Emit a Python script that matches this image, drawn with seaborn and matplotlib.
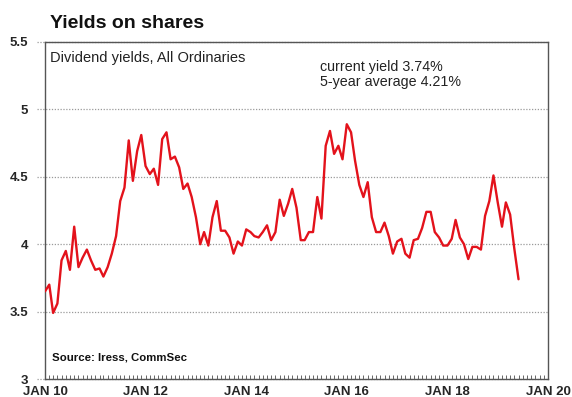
import matplotlib
matplotlib.use("Agg")
import matplotlib.pyplot as plt
import matplotlib.dates as mdates
import numpy as np
import pandas as pd
import seaborn as sns

# Monthly dividend yield (%), All Ordinaries, from January 2010
start_month = "2010-01-01"
dividend_yield = [
    3.65, 3.70, 3.49, 3.56, 3.88, 3.95, 3.81, 4.13, 3.83, 3.90, 3.96, 3.88,
    3.81, 3.82, 3.76, 3.83, 3.93, 4.06, 4.32, 4.42, 4.77, 4.47, 4.69, 4.81,
    4.58, 4.52, 4.56, 4.44, 4.78, 4.83, 4.63, 4.65, 4.57, 4.41, 4.45, 4.35,
    4.20, 4.00, 4.09, 3.99, 4.20, 4.32, 4.10, 4.10, 4.05, 3.93, 4.02, 3.99,
    4.11, 4.09, 4.06, 4.05, 4.09, 4.14, 4.03, 4.09, 4.33, 4.21, 4.30, 4.41,
    4.27, 4.03, 4.03, 4.09, 4.09, 4.35, 4.19, 4.73, 4.84, 4.67, 4.73, 4.63,
    4.89, 4.83, 4.62, 4.44, 4.35, 4.46, 4.20, 4.09, 4.09, 4.16, 4.06, 3.93,
    4.02, 4.04, 3.93, 3.90, 4.03, 4.04, 4.12, 4.24, 4.24, 4.09, 4.05, 3.99,
    3.99, 4.04, 4.18, 4.05, 4.00, 3.89, 3.98, 3.98, 3.96, 4.21, 4.32, 4.51,
    4.31, 4.13, 4.31, 4.22, 3.97, 3.74,
]
y_ticks = [3, 3.5, 4, 4.5, 5, 5.5]
y_tick_labels = ["3", "3.5", "4", "4.5", "5", "5.5"]
x_tick_years = [2010, 2012, 2014, 2016, 2018, 2020]
x_tick_labels = ["JAN 10", "JAN 12", "JAN 14", "JAN 16", "JAN 18", "JAN 20"]

title = "Yields on shares"
subtitle = "Dividend yields, All Ordinaries"
current_yield = 3.74
five_year_avg = 4.21
source = "Source: Iress, CommSec"

df = pd.DataFrame({
    "date": pd.date_range(start_month, periods=len(dividend_yield), freq="MS"),
    "yield": dividend_yield,
})

sns.set_theme(style="white")
plt.rcParams["font.family"] = ["Liberation Sans", "DejaVu Sans"]

fig = plt.figure(figsize=(5.72, 3.97), dpi=100)
ax = fig.add_axes([45 / 572, 1 - 379 / 397, 503 / 572, 337 / 397])

sns.lineplot(data=df, x="date", y="yield", ax=ax, color="#e3121b",
             linewidth=1.7, zorder=3)

ax.set_xlim(pd.Timestamp("2010-01-01"), pd.Timestamp("2020-01-01"))
ax.set_ylim(y_ticks[0], y_ticks[-1])
ax.set_xlabel("")
ax.set_ylabel("")

# Dotted horizontal guides that also run a little past the left spine
ax.hlines(y_ticks, -0.016, 1, transform=ax.get_yaxis_transform(),
          colors="#9a9a9a", linestyles=(0, (1, 1.3)), linewidth=0.9,
          clip_on=False, zorder=1)

ax.set_yticks(y_ticks)
ax.set_yticklabels(y_tick_labels, fontweight="bold", fontsize=9.5)
ax.tick_params(axis="y", length=0, pad=12)

ax.set_xticks([pd.Timestamp(f"{y}-01-01") for y in x_tick_years])
ax.set_xticklabels(x_tick_labels, fontweight="bold", fontsize=9.5)
ax.xaxis.set_minor_locator(mdates.MonthLocator())
ax.tick_params(axis="x", which="both", direction="in", length=3,
               width=0.7, color="#666666", pad=5, bottom=True)

for side in ["left", "right", "top", "bottom"]:
    ax.spines[side].set_visible(True)
    ax.spines[side].set_color("#555555")
    ax.spines[side].set_linewidth(1.0)

fig.text(50 / 572, 1 - 23 / 397, title, fontsize=14, fontweight="bold",
         ha="left", va="center", color="#111111")
fig.text(50 / 572, 1 - 58 / 397, subtitle, fontsize=10.5,
         ha="left", va="center", color="#222222")
fig.text(320 / 572, 1 - 67 / 397, f"current yield {current_yield:.2f}%",
         fontsize=10.3, ha="left", va="center", color="#222222")
fig.text(320 / 572, 1 - 82 / 397, f"5-year average {five_year_avg:.2f}%",
         fontsize=10.3, ha="left", va="center", color="#222222")
fig.text(52 / 572, 1 - 358 / 397, source, fontsize=8.2, fontweight="bold",
         ha="left", va="center", color="#111111")

fig.savefig("out.png", dpi=100, facecolor="white")
